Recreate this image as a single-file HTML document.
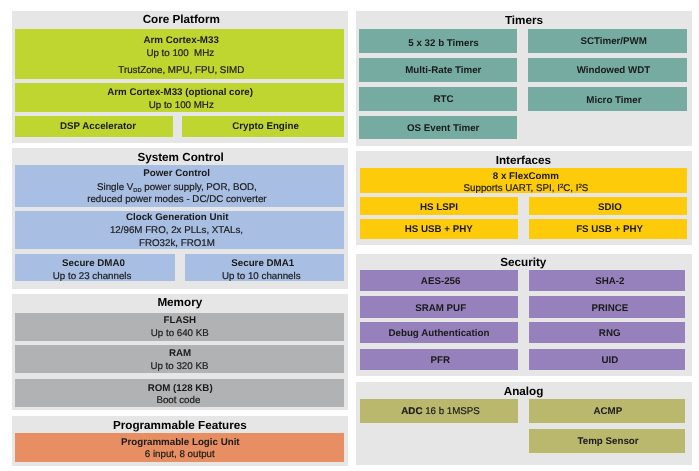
<!DOCTYPE html>
<html><head><meta charset="utf-8"><style>
html,body{margin:0;padding:0;background:#fff;}
body{width:699px;height:471px;position:relative;overflow:hidden;font-family:"Liberation Sans", Arial, Helvetica, sans-serif;}
.p{position:absolute;background:#e6e6e7;}
.b{position:absolute;}
.r{-webkit-text-stroke:0.18px #1a1a1a;}
.t{position:absolute;width:300px;text-rendering:geometricPrecision;text-align:center;white-space:nowrap;color:#1a1a1a;}
sub{font-size:0.58em;vertical-align:-0.4em;line-height:0;}
sup{font-size:0.62em;vertical-align:0.45em;line-height:0;}
</style></head><body>
<div class="p" style="left:12px;top:11px;width:336.00px;height:131.80px"></div>
<div class="p" style="left:12px;top:148px;width:336.00px;height:140.70px"></div>
<div class="p" style="left:12px;top:294.4px;width:336.00px;height:115.60px"></div>
<div class="p" style="left:12px;top:416.1px;width:336.00px;height:49.50px"></div>
<div class="p" style="left:355.5px;top:10.9px;width:336.00px;height:135.10px"></div>
<div class="p" style="left:355.5px;top:150.8px;width:336.00px;height:94.20px"></div>
<div class="p" style="left:355.5px;top:254px;width:336.00px;height:121.70px"></div>
<div class="p" style="left:355.5px;top:382.3px;width:336.00px;height:82.90px"></div>
<div class="b" style="left:15.2px;top:29px;width:328.80px;height:49.60px;background:#bfd630"></div>
<div class="b" style="left:15.2px;top:82.6px;width:328.80px;height:29.40px;background:#bfd630"></div>
<div class="b" style="left:15.2px;top:116.4px;width:157.70px;height:20.40px;background:#bfd630"></div>
<div class="b" style="left:182.3px;top:116.4px;width:161.70px;height:20.40px;background:#bfd630"></div>
<div class="b" style="left:15.2px;top:165.2px;width:328.80px;height:41.60px;background:#a9bee3"></div>
<div class="b" style="left:15.2px;top:211px;width:328.80px;height:38.00px;background:#a9bee3"></div>
<div class="b" style="left:15.2px;top:254.2px;width:159.60px;height:27.00px;background:#a9bee3"></div>
<div class="b" style="left:184.8px;top:254.2px;width:159.20px;height:27.00px;background:#a9bee3"></div>
<div class="b" style="left:15.2px;top:312.7px;width:328.80px;height:28.10px;background:#b1b2b4"></div>
<div class="b" style="left:15.2px;top:345.3px;width:328.80px;height:28.10px;background:#b1b2b4"></div>
<div class="b" style="left:15.2px;top:379px;width:328.80px;height:27.50px;background:#b1b2b4"></div>
<div class="b" style="left:15.2px;top:433px;width:328.80px;height:29.00px;background:#e78f62"></div>
<div class="b" style="left:359.3px;top:29.2px;width:157.50px;height:23.90px;background:#75aba1"></div>
<div class="b" style="left:359.3px;top:58.1px;width:157.50px;height:24.00px;background:#75aba1"></div>
<div class="b" style="left:359.3px;top:86.8px;width:157.50px;height:23.90px;background:#75aba1"></div>
<div class="b" style="left:359.3px;top:115.7px;width:157.50px;height:23.50px;background:#75aba1"></div>
<div class="b" style="left:528px;top:29.2px;width:159.40px;height:23.90px;background:#75aba1"></div>
<div class="b" style="left:528px;top:58.1px;width:159.40px;height:24.00px;background:#75aba1"></div>
<div class="b" style="left:528px;top:86.8px;width:159.40px;height:23.90px;background:#75aba1"></div>
<div class="b" style="left:359.8px;top:168px;width:327.20px;height:25.00px;background:#fecb0b"></div>
<div class="b" style="left:359.8px;top:196.9px;width:158.10px;height:18.60px;background:#fecb0b"></div>
<div class="b" style="left:528.9px;top:196.9px;width:158.10px;height:18.60px;background:#fecb0b"></div>
<div class="b" style="left:359.8px;top:219.2px;width:158.10px;height:19.40px;background:#fecb0b"></div>
<div class="b" style="left:528.9px;top:219.2px;width:158.10px;height:19.40px;background:#fecb0b"></div>
<div class="b" style="left:360.2px;top:269.6px;width:157.70px;height:21.10px;background:#9681bc"></div>
<div class="b" style="left:529.2px;top:269.6px;width:156.10px;height:21.10px;background:#9681bc"></div>
<div class="b" style="left:360.2px;top:296.2px;width:157.70px;height:21.60px;background:#9681bc"></div>
<div class="b" style="left:529.2px;top:296.2px;width:156.10px;height:21.60px;background:#9681bc"></div>
<div class="b" style="left:360.2px;top:321.8px;width:157.70px;height:21.40px;background:#9681bc"></div>
<div class="b" style="left:529.2px;top:321.8px;width:156.10px;height:21.40px;background:#9681bc"></div>
<div class="b" style="left:360.2px;top:348.6px;width:157.70px;height:21.40px;background:#9681bc"></div>
<div class="b" style="left:529.2px;top:348.6px;width:156.10px;height:21.40px;background:#9681bc"></div>
<div class="b" style="left:360.2px;top:398.6px;width:157.70px;height:24.00px;background:#b9b86d"></div>
<div class="b" style="left:529.2px;top:398.6px;width:156.10px;height:24.00px;background:#b9b86d"></div>
<div class="b" style="left:529.2px;top:428.6px;width:156.10px;height:24.40px;background:#b9b86d"></div>
<div class="t" style="left:31.30px;top:14.00px;font-size:11.7px;line-height:11.7px;font-weight:bold;color:#000;">Core Platform</div>
<div class="t" style="left:31.20px;top:36.00px;font-size:9.75px;line-height:9.75px;font-weight:bold;">Arm Cortex-M33</div>
<div class="t r" style="left:30.30px;top:49.00px;font-size:9.75px;line-height:9.75px;font-weight:normal;">Up to 100&nbsp; MHz</div>
<div class="t r" style="left:31.30px;top:66.00px;font-size:9.75px;line-height:9.75px;font-weight:normal;">TrustZone, MPU, FPU, SIMD</div>
<div class="t" style="left:30.10px;top:88.00px;font-size:9.75px;line-height:9.75px;font-weight:bold;">Arm Cortex-M33 (optional core)</div>
<div class="t r" style="left:31.25px;top:101.00px;font-size:9.75px;line-height:9.75px;font-weight:normal;">Up to 100 MHz</div>
<div class="t" style="left:-52.00px;top:122.00px;font-size:9.75px;line-height:9.75px;font-weight:bold;">DSP Accelerator</div>
<div class="t" style="left:115.60px;top:122.00px;font-size:9.75px;line-height:9.75px;font-weight:bold;">Crypto Engine</div>
<div class="t" style="left:30.60px;top:152.00px;font-size:11.7px;line-height:11.7px;font-weight:bold;color:#000;">System Control</div>
<div class="t" style="left:26.55px;top:169.00px;font-size:9.75px;line-height:9.75px;font-weight:bold;">Power Control</div>
<div class="t r" style="left:26.90px;top:183.00px;font-size:9.75px;line-height:9.75px;font-weight:normal;">Single V<sub>DD</sub> power supply, POR, BOD,</div>
<div class="t r" style="left:26.90px;top:195.00px;font-size:9.75px;line-height:9.75px;font-weight:normal;">reduced power modes - DC/DC converter</div>
<div class="t" style="left:27.20px;top:213.00px;font-size:9.75px;line-height:9.75px;font-weight:bold;">Clock Generation Unit</div>
<div class="t r" style="left:26.50px;top:226.00px;font-size:9.75px;line-height:9.75px;font-weight:normal;">12/96M FRO, 2x PLLs, XTALs,</div>
<div class="t r" style="left:26.90px;top:239.00px;font-size:9.75px;line-height:9.75px;font-weight:normal;">FRO32k, FRO1M</div>
<div class="t" style="left:-56.50px;top:259.00px;font-size:9.75px;line-height:9.75px;font-weight:bold;">Secure DMA0</div>
<div class="t r" style="left:-57.90px;top:272.00px;font-size:9.75px;line-height:9.75px;font-weight:normal;">Up to 23 channels</div>
<div class="t" style="left:112.75px;top:259.00px;font-size:9.75px;line-height:9.75px;font-weight:bold;">Secure DMA1</div>
<div class="t r" style="left:111.25px;top:272.00px;font-size:9.75px;line-height:9.75px;font-weight:normal;">Up to 10 channels</div>
<div class="t" style="left:29.80px;top:297.00px;font-size:11.7px;line-height:11.7px;font-weight:bold;color:#000;">Memory</div>
<div class="t" style="left:29.75px;top:316.00px;font-size:9.75px;line-height:9.75px;font-weight:bold;">FLASH</div>
<div class="t r" style="left:29.75px;top:329.00px;font-size:9.75px;line-height:9.75px;font-weight:normal;">Up to 640 KB</div>
<div class="t" style="left:30.10px;top:349.00px;font-size:9.75px;line-height:9.75px;font-weight:bold;">RAM</div>
<div class="t r" style="left:29.40px;top:362.00px;font-size:9.75px;line-height:9.75px;font-weight:normal;">Up to 320 KB</div>
<div class="t" style="left:30.15px;top:384.00px;font-size:9.75px;line-height:9.75px;font-weight:bold;">ROM (128 KB)</div>
<div class="t r" style="left:28.40px;top:396.00px;font-size:9.75px;line-height:9.75px;font-weight:normal;">Boot code</div>
<div class="t" style="left:29.85px;top:420.00px;font-size:11.7px;line-height:11.7px;font-weight:bold;color:#000;">Programmable Features</div>
<div class="t" style="left:30.30px;top:438.00px;font-size:9.75px;line-height:9.75px;font-weight:bold;">Programmable Logic Unit</div>
<div class="t r" style="left:29.75px;top:450.00px;font-size:9.75px;line-height:9.75px;font-weight:normal;">6 input, 8 output</div>
<div class="t" style="left:374.00px;top:15.00px;font-size:11.7px;line-height:11.7px;font-weight:bold;color:#000;">Timers</div>
<div class="t" style="left:293.50px;top:39.00px;font-size:9.75px;line-height:9.75px;font-weight:bold;">5 x 32 b Timers</div>
<div class="t" style="left:293.30px;top:66.00px;font-size:9.75px;line-height:9.75px;font-weight:bold;">Multi-Rate Timer</div>
<div class="t" style="left:293.55px;top:95.00px;font-size:9.75px;line-height:9.75px;font-weight:bold;">RTC</div>
<div class="t" style="left:293.20px;top:124.00px;font-size:9.75px;line-height:9.75px;font-weight:bold;">OS Event Timer</div>
<div class="t" style="left:463.70px;top:37.00px;font-size:9.75px;line-height:9.75px;font-weight:bold;">SCTimer/PWM</div>
<div class="t" style="left:463.45px;top:66.00px;font-size:9.75px;line-height:9.75px;font-weight:bold;">Windowed WDT</div>
<div class="t" style="left:463.90px;top:96.00px;font-size:9.75px;line-height:9.75px;font-weight:bold;">Micro Timer</div>
<div class="t" style="left:373.30px;top:155.00px;font-size:11.7px;line-height:11.7px;font-weight:bold;color:#000;">Interfaces</div>
<div class="t" style="left:375.85px;top:172.00px;font-size:9.75px;line-height:9.75px;font-weight:bold;">8 x FlexComm</div>
<div class="t r" style="left:375.95px;top:184.00px;font-size:9.75px;line-height:9.75px;font-weight:normal;">Supports UART, SPI, I<sup>2</sup>C, I<sup>2</sup>S</div>
<div class="t" style="left:288.95px;top:203.00px;font-size:9.75px;line-height:9.75px;font-weight:bold;">HS LSPI</div>
<div class="t" style="left:459.95px;top:203.00px;font-size:9.75px;line-height:9.75px;font-weight:bold;">SDIO</div>
<div class="t" style="left:288.75px;top:225.00px;font-size:9.75px;line-height:9.75px;font-weight:bold;">HS USB + PHY</div>
<div class="t" style="left:459.60px;top:225.00px;font-size:9.75px;line-height:9.75px;font-weight:bold;">FS USB + PHY</div>
<div class="t" style="left:373.30px;top:257.00px;font-size:11.7px;line-height:11.7px;font-weight:bold;color:#000;">Security</div>
<div class="t" style="left:290.65px;top:277.00px;font-size:9.75px;line-height:9.75px;font-weight:bold;">AES-256</div>
<div class="t" style="left:459.80px;top:277.00px;font-size:9.75px;line-height:9.75px;font-weight:bold;">SHA-2</div>
<div class="t" style="left:290.65px;top:304.00px;font-size:9.75px;line-height:9.75px;font-weight:bold;">SRAM PUF</div>
<div class="t" style="left:459.80px;top:304.00px;font-size:9.75px;line-height:9.75px;font-weight:bold;">PRINCE</div>
<div class="t" style="left:288.95px;top:329.00px;font-size:9.75px;line-height:9.75px;font-weight:bold;">Debug Authentication</div>
<div class="t" style="left:459.70px;top:329.00px;font-size:9.75px;line-height:9.75px;font-weight:bold;">RNG</div>
<div class="t" style="left:290.35px;top:356.00px;font-size:9.75px;line-height:9.75px;font-weight:bold;">PFR</div>
<div class="t" style="left:459.85px;top:356.00px;font-size:9.75px;line-height:9.75px;font-weight:bold;">UID</div>
<div class="t" style="left:373.50px;top:386.00px;font-size:11.7px;line-height:11.7px;font-weight:bold;color:#000;">Analog</div>
<div class="t r" style="left:290.60px;top:407.00px;font-size:9.75px;line-height:9.75px;font-weight:normal;"><b>ADC</b> 16 b 1MSPS</div>
<div class="t" style="left:457.80px;top:407.00px;font-size:9.75px;line-height:9.75px;font-weight:bold;">ACMP</div>
<div class="t" style="left:458.05px;top:437.00px;font-size:9.75px;line-height:9.75px;font-weight:bold;">Temp Sensor</div>
</body></html>
